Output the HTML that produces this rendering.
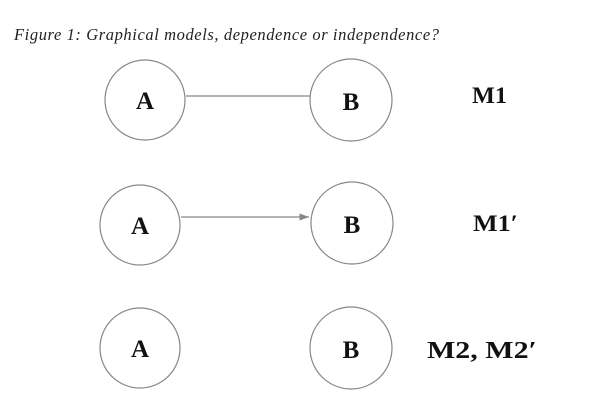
<!DOCTYPE html>
<html><head><meta charset="utf-8"><style>
body{margin:0;background:#fff;}
svg{display:block;font-family:"Liberation Serif",serif;}
</style></head><body>
<svg width="592" height="417" viewBox="0 0 592 417">
<defs><marker id="ah" markerWidth="8" markerHeight="6" refX="8" refY="3" orient="auto"><path d="M0,0 L8,3 L0,6 z" fill="#888"/></marker></defs>
<text x="14" y="40" font-size="16.5" font-style="italic" fill="#222" textLength="425" lengthAdjust="spacing">Figure 1: Graphical models, dependence or independence?</text>
<g>
<circle cx="145" cy="100" r="40" fill="none" stroke="#888" stroke-width="1.2"/>
<circle cx="351" cy="100" r="41" fill="none" stroke="#888" stroke-width="1.2"/>
<line x1="186" y1="96" x2="310" y2="96" stroke="#888" stroke-width="1.2"/>
<text x="145" y="109" font-size="25" font-weight="bold" text-anchor="middle" fill="#111">A</text>
<text x="351" y="110" font-size="25" font-weight="bold" text-anchor="middle" fill="#111">B</text>
<text x="472" y="103" font-size="23" font-weight="bold" fill="#111" textLength="35" lengthAdjust="spacingAndGlyphs">M1</text>
</g>
<g>
<circle cx="140" cy="225" r="40" fill="none" stroke="#888" stroke-width="1.2"/>
<circle cx="352" cy="223" r="41" fill="none" stroke="#888" stroke-width="1.2"/>
<line x1="181" y1="217" x2="309" y2="217" stroke="#888" stroke-width="1.2" marker-end="url(#ah)"/>
<text x="140" y="234" font-size="25" font-weight="bold" text-anchor="middle" fill="#111">A</text>
<text x="352" y="233" font-size="25" font-weight="bold" text-anchor="middle" fill="#111">B</text>
<text x="473" y="231" font-size="23" font-weight="bold" fill="#111" textLength="45" lengthAdjust="spacingAndGlyphs">M1′</text>
</g>
<g>
<circle cx="140" cy="348" r="40" fill="none" stroke="#888" stroke-width="1.2"/>
<circle cx="351" cy="348" r="41" fill="none" stroke="#888" stroke-width="1.2"/>
<text x="140" y="357" font-size="25" font-weight="bold" text-anchor="middle" fill="#111">A</text>
<text x="351" y="358" font-size="25" font-weight="bold" text-anchor="middle" fill="#111">B</text>
<text x="427" y="358" font-size="24" font-weight="bold" fill="#111" textLength="110" lengthAdjust="spacingAndGlyphs">M2,  M2′</text>
</g>
</svg>
</body></html>
